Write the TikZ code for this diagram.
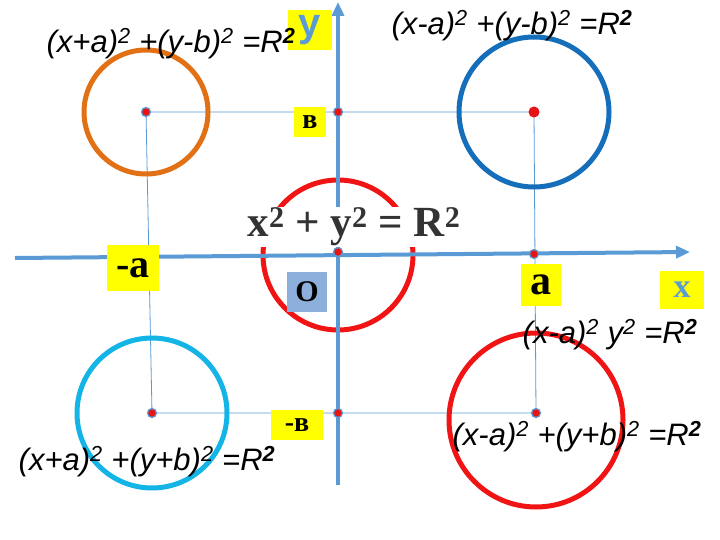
\documentclass[tikz,border=0pt]{standalone}
\usepackage{fontspec}
\setmainfont{Liberation Sans}
\newfontfamily\serifb{Liberation Serif}
\usetikzlibrary{arrows.meta}
\definecolor{axis}{RGB}{91,155,213}
\definecolor{dotred}{RGB}{230,20,20}
\definecolor{orng}{RGB}{226,112,20}
\definecolor{dblue}{RGB}{20,110,185}
\definecolor{lblue}{RGB}{20,180,230}
\definecolor{cred}{RGB}{240,20,20}
\definecolor{ybox}{RGB}{255,255,0}
\definecolor{obox}{RGB}{140,175,220}
\newcommand{\sq}{\textsuperscript{2}}
\newcommand{\sqb}{\textsuperscript{\bfseries 2}}
\tikzset{
 ax/.style={draw=axis,line width=4pt,-{Triangle[length=14pt,width=12pt]}},
 thin/.style={draw=axis,line width=0.8pt},
 circ/.style={line width=5pt},
 pt/.style={circle,fill=dotred,draw=axis,line width=1.2pt,inner sep=0pt,minimum size=9pt},
 yl/.style={fill=ybox,inner sep=2pt},
 eq/.style={font=\itshape\fontsize{31}{34}\selectfont,inner sep=1pt}
}
\begin{document}
\begin{tikzpicture}[x=1pt,y=-1pt]
\useasboundingbox (0,0) rectangle (720,540);
\fill[white] (0,0) rectangle (720,540);
\coordinate (tl) at (146,112); \coordinate (tr) at (534,112);
\coordinate (br) at (536,413); \coordinate (bl) at (152,413);
\draw[thin] (tl) -- (tr) -- (br) -- (bl) -- (tl);
\draw[circ,orng] (146,112) circle (62);
\draw[circ,dblue] (534,112) circle (75);
\draw[circ,cred] (338,255) circle (75);
\draw[circ,lblue] (152,413) circle (75);
\draw[circ,cred] (536,420) circle (87);
\coordinate (ys) at (338,485); \coordinate (ye) at (338,2);
\coordinate (xs) at (15,258); \coordinate (xe) at (690,252);
\draw[ax] (ys) -- (ye);
\draw[ax] (xs) -- (xe);
\foreach \n/\p in {p1/{146,112},p2/{338,112},p3/{534,112},p4/{146,258},p5/{338,252},p6/{534,254},p7/{152,413},p8/{338,413},p9/{536,413}}
  \node[pt] (\n) at (\p) {};
\node[circle,fill=dotred,inner sep=0pt,minimum size=11pt] (p3b) at (534,112) {};
\node[fill=white,font=\serifb\bfseries\fontsize{43}{46}\selectfont,text=black!80,inner sep=1pt] (f) at (354,227) {x\sq{} + y\sq{} = R\sq};
\node[yl,text=axis,font=\bfseries\fontsize{40}{40}\selectfont,minimum width=44pt,minimum height=40pt] (ly) at (310,30) {y};
\node[yl,font=\serifb\bfseries\fontsize{28}{28}\selectfont,minimum width=32pt,minimum height=30pt] (lb) at (310,122) {в};
\node[yl,font=\serifb\bfseries\fontsize{40}{40}\selectfont,minimum width=52pt,minimum height=46pt] (lma) at (133,268) {-a};
\node[fill=obox,font=\serifb\bfseries\fontsize{30}{30}\selectfont,minimum width=40pt,minimum height=40pt] (lo) at (307,292) {O};
\node[yl,font=\serifb\bfseries\fontsize{42}{42}\selectfont,minimum width=40pt,minimum height=42pt] (la) at (541,285) {a};
\node[yl,text=axis,font=\serifb\bfseries\fontsize{34}{34}\selectfont,minimum width=44pt,minimum height=38pt] (lx) at (682,290) {x};
\node[yl,font=\serifb\bfseries\fontsize{28}{28}\selectfont,minimum width=52pt,minimum height=30pt] (lmb) at (297,425) {-в};
\node[eq] (e1) at (171,44) {(x+a)\sq{} +(y-b)\sq{} =R\sqb};
\node[eq] (e2) at (512,26) {(x-a)\sq{} +(y-b)\sq{} =R\sqb};
\node[eq] (e3) at (610,335) {(x-a)\sq{} y\sq{} =R\sqb};
\node[eq] (e4) at (577,437) {(x-a)\sq{} +(y+b)\sq{} =R\sqb};
\node[eq] (e5) at (147,462) {(x+a)\sq{} +(y+b)\sq{} =R\sqb};
\end{tikzpicture}
\end{document}
